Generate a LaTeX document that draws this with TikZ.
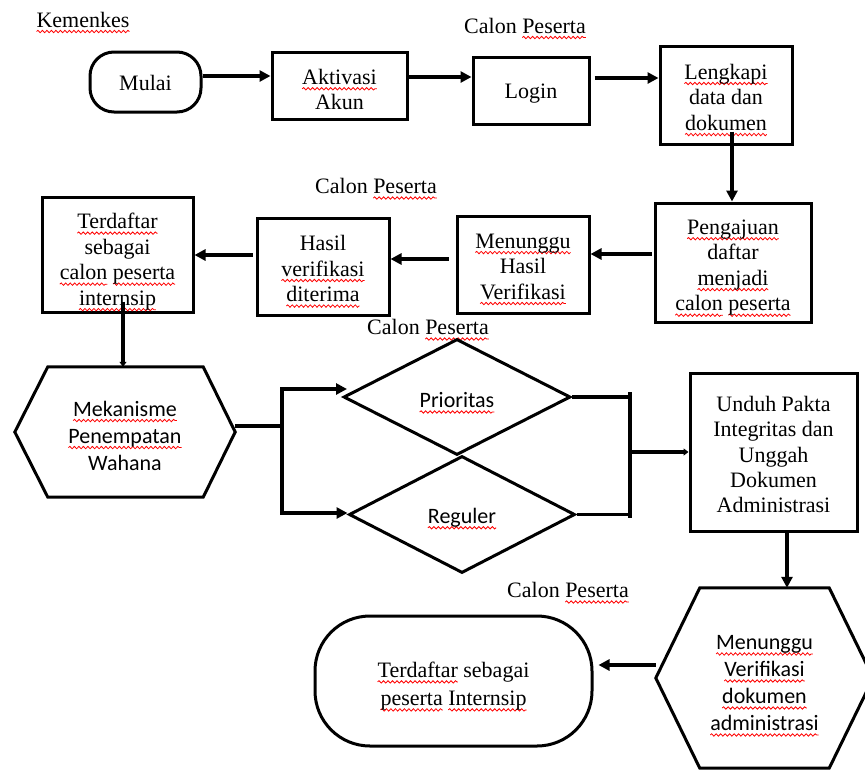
\documentclass[tikz,border=0pt]{standalone}
\usepackage{fontspec}
\setmainfont{Liberation Serif}
\newfontfamily\calib{Carlito}
\usetikzlibrary{arrows.meta,shapes.geometric,decorations.pathmorphing}
\newsavebox\sqbox
\newlength\sqlen
\newcommand\sq[1]{\sbox\sqbox{#1}\setlength\sqlen{\wd\sqbox}\rlap{\smash{\tikz[baseline=0pt,sharp corners]{\path[use as bounding box](0pt,0pt) rectangle (\sqlen,0pt);\draw[red,line width=0.8pt,sharp corners,decorate,decoration={snake,amplitude=1.2pt,segment length=4.5pt}](0pt,-4.5pt) -- (\sqlen,-4.5pt);}}}\usebox\sqbox}
\begin{document}
\begin{tikzpicture}[x=1pt,y=-1pt,
  font=\fontsize{22}{25.5}\selectfont,
  box/.style={draw,line width=3pt,inner sep=0pt},
  txt/.style={align=center,inner sep=0pt},
  arr/.style={line width=3.8pt,-{Triangle[length=11pt,width=11pt]}},
  arrs/.style={line width=3.8pt,-{Triangle[length=5pt,width=7pt]}},
  arrboth/.style={line width=3.8pt,line join=miter,{Triangle[length=11pt,width=11pt]}-{Triangle[length=11pt,width=11pt]}},
  ln/.style={line width=3.8pt},
  hexline/.style={line width=3pt,line join=miter},
  cal/.style={font=\calib\fontsize{22}{27}\selectfont}]
\useasboundingbox (0,0) rectangle (865,769);
\clip (0,0) rectangle (865,769);
% labels
\node[anchor=west] (kem) at (33,19.5) {\sq{Kemenkes}};
\node (cp1) at (525,25.5) {Calon \sq{Peserta}};
\node (cp2) at (376,186) {Calon \sq{Peserta}};
\node (cp3) at (428,327) {Calon \sq{Peserta}};
\node (cp4) at (568,590) {Calon \sq{Peserta}};
% row 1
\node[box,rounded corners=24pt,minimum width=111pt,minimum height=60pt] (mulai) at (145.5,82) {};
\node[txt] (mulaiT) at ([yshift=-1pt]mulai.center) {Mulai};
\node[box,minimum width=135pt,minimum height=67pt] (akt) at (339.5,85.5) {};
\node[txt] (aktT) at ([yshift=-4pt]akt.center) {\sq{Aktivasi}\\Akun};
\node[box,minimum width=116pt,minimum height=67pt] (login) at (531,90.5) {};
\node[txt] (loginT) at ([yshift=-3pt]login.center) {Login};
\node[box,minimum width=132pt,minimum height=98pt] (lengk) at (726,95) {};
\node[txt] (lengkT) at ([yshift=-2pt]lengk.center) {\sq{Lengkapi}\\data dan\\\sq{dokumen}};
% row 2
\node[box,minimum width=156pt,minimum height=119pt] (peng) at (733,262.5) {};
\node[txt] (pengT) at ([yshift=-5pt]peng.center) {\sq{Pengajuan}\\daftar\\\sq{menjadi}\\\sq{calon} \sq{peserta}};
\node[box,minimum width=132pt,minimum height=97pt] (menh) at (523,264.5) {};
\node[txt] (menhT) at ([yshift=-2pt]menh.center) {\sq{Menunggu}\\Hasil\\\sq{Verifikasi}};
\node[box,minimum width=132pt,minimum height=97pt] (hasil) at (323,266.5) {};
\node[txt] (hasilT) at ([yshift=-2pt]hasil.center) {Hasil\\\sq{verifikasi}\\\sq{diterima}};
\node[box,minimum width=151pt,minimum height=115pt] (terd) at (117.5,254.5) {};
\node[txt] (terdT) at ([yshift=-7pt]terd.center) {\sq{Terdaftar}\\sebagai\\\sq{calon} \sq{peserta}\\\sq{internsip}};
% row 3
\node[minimum width=220pt,minimum height=130pt,inner sep=0pt] (mek) at (125,432) {};
\node[txt,cal] (mekT) at ([yshift=-3.5pt]mek.center) {\sq{Mekanisme}\\\sq{Penempatan}\\Wahana};
\draw[hexline] (mek.west) -- ([xshift=33pt]mek.north west) -- ([xshift=-32pt]mek.north east) -- (mek.east) -- ([xshift=-32pt]mek.south east) -- ([xshift=33pt]mek.south west) -- cycle;
\node[draw,diamond,line width=3pt,minimum width=227pt,minimum height=116pt,inner sep=0pt] (prio) at (457,397) {};
\node[txt,cal] (prioT) at ([yshift=-3pt]prio.center) {\sq{Prioritas}};
\node[draw,diamond,line width=3pt,minimum width=226pt,minimum height=117pt,inner sep=0pt] (reg) at (462,514.5) {};
\node[txt,cal] (regT) at ([yshift=-3pt]reg.center) {\sq{Reguler}};
\node[box,minimum width=167pt,minimum height=158pt] (unduh) at (773.5,452) {};
\node[txt,font=\fontsize{22}{25.25}\selectfont] (unduhT) at ([yshift=-2.5pt]unduh.center) {Unduh Pakta\\Integritas dan\\Unggah\\Dokumen\\Administrasi};
% row 4
\node[minimum width=217pt,minimum height=180pt,inner sep=0pt] (mver) at (764.5,678) {};
\node[txt,cal] (mverT) at ([yshift=-5pt]mver.center) {\sq{Menunggu}\\\sq{Verifikasi}\\\sq{dokumen}\\\sq{administrasi}};
\draw[hexline] (mver.west) -- ([xshift=44pt]mver.north west) -- ([xshift=-44pt]mver.north east) -- (mver.east) -- ([xshift=-44pt]mver.south east) -- ([xshift=44pt]mver.south west) -- cycle;
\node[box,rounded corners=55pt,minimum width=277pt,minimum height=130pt] (fin) at (453.5,681) {};
\node[txt,font=\fontsize{22}{28}\selectfont] (finT) at ([yshift=-5pt]fin.center) {\sq{Terdaftar} sebagai\\\sq{peserta} \sq{Internsip}};
% connectors
\draw[arr] ([yshift=6pt]mulai.east) -- ([yshift=6pt]mulai.east -| akt.west);
\draw[arr] ([yshift=8.5pt]akt.east) -- ([yshift=8.5pt]akt.east -| login.west);
\draw[arr] ([xshift=4pt,yshift=12.5pt]login.east) -- ([yshift=12.5pt]login.east -| lengk.west);
\draw[arr] ([xshift=6pt,yshift=14pt]lengk.south) -- ([xshift=6pt]lengk.south |- peng.north);
\draw[arr] ([xshift=-2pt,yshift=8.5pt]peng.west) -- ([yshift=8.5pt]peng.west -| menh.east);
\draw[arr] ([xshift=-7pt,yshift=5.5pt]menh.west) -- ([yshift=5.5pt]menh.west -| hasil.east);
\draw[arr] ([xshift=-3pt,yshift=11.5pt]hasil.west) -- ([yshift=11.5pt]hasil.west -| terd.east);
\draw[arrs] ([xshift=5.5pt,yshift=12pt]terd.south) -- ([xshift=5.5pt]terd.south |- mek.north);
\coordinate (spl) at (282,426);
\coordinate (spT) at (282,389);
\coordinate (spB) at (282,513);
\draw[ln] ([yshift=6pt]mek.east) -- (spl);
\draw[arrboth] ([xshift=5pt]spT -| prio.west) -- (spT) -- (spB) -- (spB -| reg.west);
\coordinate (mgT) at (630,392);
\coordinate (mgB) at (630,518);
\draw[ln] (prio.east) -- (prio.east -| mgT);
\draw[ln] (reg.east) -- (reg.east -| mgT);
\draw[ln] (mgT) -- (mgB);
\draw[arrs] (unduh.west -| mgT) -- (unduh.west);
\draw[arr] ([xshift=13.5pt]unduh.south) -- ([xshift=13.5pt]unduh.south |- mver.north);
\draw[arr] ([yshift=13pt]mver.west) -- ([xshift=5pt,yshift=13pt]mver.west -| fin.east);
\end{tikzpicture}
\end{document}
